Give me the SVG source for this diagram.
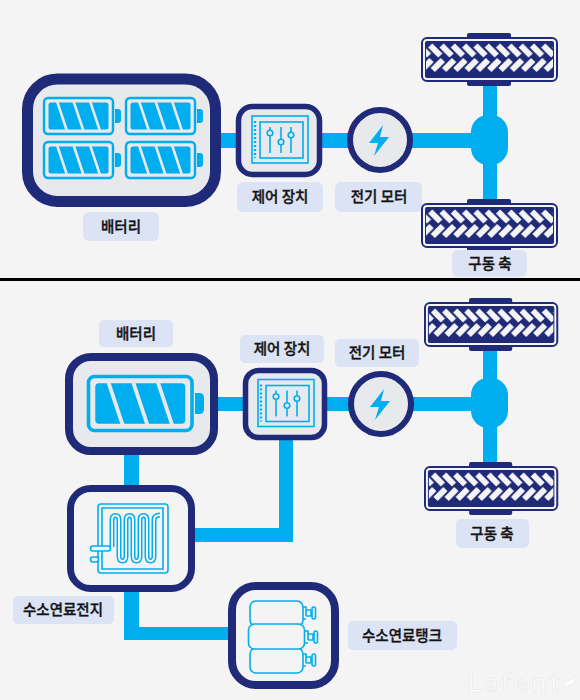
<svg xmlns="http://www.w3.org/2000/svg" width="580" height="700" viewBox="0 0 580 700">
<style>
.lb{fill:#dbe3f4}
.t{font-family:"Noto Sans CJK KR","Noto Sans",sans-serif;font-size:14.5px;font-weight:500;fill:#141414;stroke:#141414;stroke-width:.35px;text-anchor:middle}
.nv{stroke:#1f2a78;fill:#e8e9ec}
.ln{fill:#00aeef}
.ic{fill:none;stroke:#00aeef;stroke-width:1.6}
</style>
<defs>
<pattern id="tread" patternUnits="userSpaceOnUse" x="0" y="6" width="11.3" height="32">
<g stroke="#f4f4f4" stroke-width="6" fill="none">
<path d="M-2 2.500L8 12.500M9.300 2.500L19.300 12.500M-13.300 2.500L-3.300 12.500"/>
<path d="M10.500 17L0.500 27M21.800 17L11.800 27M-0.800 17L-10.800 27"/>
</g>
</pattern>
<g id="tire">
<rect x="46" y="-4" width="44" height="53" rx="2" fill="#1f2a78"/>
<rect x="1" y="1" width="135" height="43" rx="5" fill="#f4f4f4" stroke="#1f2a78" stroke-width="2"/>
<rect x="4" y="4" width="129" height="37" rx="2" fill="#1f2a78"/>
<rect x="5" y="6" width="127" height="32" fill="url(#tread)"/>
</g>
<g id="cell">
<rect x="1" y="1" width="69" height="36" rx="4" fill="none" stroke="#00aeef" stroke-width="2.400"/>
<rect x="5.500" y="5.500" width="60" height="27" rx="2.500" fill="#00aeef"/>
<path d="M14 4L24 34M30.500 4L40.500 34M47 4L57 34" stroke="#e8e9ec" stroke-width="2.600" fill="none"/>
<path d="M72 12h3a3 3 0 0 1 3 3v8a3 3 0 0 1-3 3h-3z" fill="#00aeef"/>
</g>
<g id="ctl">
<rect x="252" y="116" width="56" height="47" class="ic"/>
<rect x="260" y="122" width="43" height="36" class="ic"/>
<path d="M255 121V158" stroke="#00aeef" stroke-width="2.400" stroke-dasharray="2 2" fill="none"/>
<path d="M270 127V130M270 136V153M281 127V139M281 145V153M291 127V132M291 138V153" class="ic"/>
<circle cx="270" cy="133" r="2.800" class="ic"/><circle cx="281" cy="142" r="2.800" class="ic"/><circle cx="291" cy="135" r="2.800" class="ic"/>
</g>
<polygon id="bolt" points="383,125 369,143 378,143 374,156 389,137 380,137" fill="#00aeef"/>
<g id="valve">
<path d="M0 -6h3v3h5M3 -3v6M3 6h-3M3 3h5M8 -3v6" class="ic"/>
<rect x="9" y="-6" width="3.500" height="12" rx="1.700" class="ic"/>
</g>
</defs>
<rect width="580" height="700" fill="#f4f4f4"/>
<rect x="0" y="278" width="580" height="3" fill="#000"/>

<g id="connectors">
<rect class="ln" x="210" y="133" width="280" height="15"/>
<rect class="ln" x="483" y="80" width="14" height="125"/>
<rect class="ln" x="471" y="115" width="37" height="50" rx="17"/>
<rect class="ln" x="210" y="397" width="280" height="14"/>
<rect class="ln" x="483" y="345" width="14" height="125"/>
<rect class="ln" x="471" y="378" width="37" height="50" rx="17"/>
<rect class="ln" x="124" y="450" width="15" height="40"/>
<path class="ln" d="M190 528H279V435H293V542H190z"/>
<path class="ln" d="M124 588H139V627H235V640H124z"/>
</g>

<g id="top-battery">
<rect class="nv" x="27.500" y="79" width="188" height="122.500" rx="30" stroke-width="11"/>
<use href="#cell" x="43" y="97"/><use href="#cell" x="125" y="97"/>
<use href="#cell" x="43" y="141"/><use href="#cell" x="125" y="141"/>
</g>
<g id="top-battery-label"><rect class="lb" x="83" y="212" width="76" height="29" rx="6"/><text class="t" x="121" y="232">배터리</text></g>

<g id="top-control">
<rect class="nv" x="238.500" y="106.500" width="81" height="68" rx="14" stroke-width="5.500"/>
<use href="#ctl"/>
</g>
<g id="top-control-label"><rect class="lb" x="237" y="182" width="86" height="30" rx="6"/><text class="t" x="280" y="202">제어 장치</text></g>

<g id="top-motor">
<circle class="nv" cx="380" cy="140" r="30" stroke-width="6"/>
<use href="#bolt"/>
</g>
<g id="top-motor-label"><rect class="lb" x="335" y="182" width="87" height="30" rx="6"/><text class="t" x="379" y="202">전기 모터</text></g>

<g id="top-axle">
<use href="#tire" x="421" y="37"/>
<use href="#tire" x="421" y="203"/>
</g>
<g id="top-axle-label"><rect class="lb" x="452" y="250" width="75" height="27" rx="6"/><text class="t" x="490" y="269">구동 축</text></g>

<g id="battery">
<rect class="nv" x="69" y="357" width="145" height="94" rx="22" stroke-width="8"/>
<use href="#cell" transform="translate(87 375) scale(1.500)"/>
</g>
<g id="battery-label"><rect class="lb" x="99" y="320" width="74" height="27" rx="5"/><text class="t" x="136" y="339">배터리</text></g>

<g id="control">
<rect class="nv" x="245.500" y="370.500" width="79" height="67" rx="13" stroke-width="5.500"/>
<use href="#ctl" x="6" y="263.500"/>
</g>
<g id="control-label"><rect class="lb" x="240" y="335" width="84" height="28" rx="5"/><text class="t" x="282" y="354">제어 장치</text></g>

<g id="motor">
<circle class="nv" cx="381" cy="404" r="30" stroke-width="6"/>
<use href="#bolt" x="1" y="264"/>
</g>
<g id="motor-label"><rect class="lb" x="335" y="339" width="84" height="28" rx="5"/><text class="t" x="377" y="358">전기 모터</text></g>

<g id="axle">
<use href="#tire" transform="translate(424 302) scale(0.980 1)"/>
<use href="#tire" transform="translate(424 466) scale(0.980 1)"/>
</g>
<g id="axle-label"><rect class="lb" x="456" y="519" width="73" height="29" rx="5"/><text class="t" x="492" y="539">구동 축</text></g>

<g id="fuel-cell">
<rect x="70.500" y="488.500" width="121" height="100" rx="20" fill="#f4f4f4" stroke="#1f2a78" stroke-width="7"/>
<rect x="98" y="504" width="70" height="69" rx="3" class="ic"/>
<path d="M102 569V508H163V569z" class="ic"/>
<g fill="none">
<path d="M112 547V520Q112 515.500 115.500 515.500T119 520V556Q119 561 122.500 561T126 556V520Q126 515.500 129.500 515.500T133 520V556Q133 561 136.500 561T140 556V520Q140 515.500 143.500 515.500T147 520V556Q147 561 150.500 561T154 556V520Q154 515 160 515" stroke="#00aeef" stroke-width="5"/>
<path d="M112 547V520Q112 515.500 115.500 515.500T119 520V556Q119 561 122.500 561T126 556V520Q126 515.500 129.500 515.500T133 520V556Q133 561 136.500 561T140 556V520Q140 515.500 143.500 515.500T147 520V556Q147 561 150.500 561T154 556V520Q154 515 160 515" stroke="#f4f4f4" stroke-width="2"/>
</g>
<rect x="90.500" y="546" width="20" height="5" rx="2.500" fill="#f4f4f4" stroke="#00aeef" stroke-width="1.600"/>
<rect x="90.500" y="557" width="8" height="5" rx="2.500" fill="#f4f4f4" stroke="#00aeef" stroke-width="1.600"/>
</g>
<g id="fuel-cell-label"><rect class="lb" x="13" y="596" width="101" height="28" rx="5"/><text class="t" x="63" y="615">수소연료전지</text></g>

<g id="tank">
<rect x="232" y="586" width="103" height="99" rx="24" fill="#f4f4f4" stroke="#1f2a78" stroke-width="8"/>
<rect x="250" y="601" width="53" height="25" rx="6" class="ic"/>
<rect x="250" y="648" width="53" height="25" rx="6" class="ic"/>
<rect x="248.500" y="624" width="56" height="25" rx="6" fill="#f4f4f4" stroke="#00aeef" stroke-width="1.600"/>
<use href="#valve" x="303" y="613"/>
<use href="#valve" x="305" y="637"/>
<use href="#valve" x="303" y="660"/>
</g>
<g id="tank-label"><rect class="lb" x="348" y="621" width="109" height="29" rx="5"/><text class="t" x="402" y="641">수소연료탱크</text></g>

<g id="watermark">
<text x="467" y="692" font-family="Lato,'Liberation Sans',sans-serif" font-size="27" font-weight="400" letter-spacing="3.500" fill="#fcfcfc" stroke="#e4e4e4" stroke-width="0.500">Lafent</text>
<path d="M562 687Q565 679 577 678Q574 687 562 687z" fill="#fcfcfc" stroke="#e4e4e4" stroke-width="0.500"/>
</g>
</svg>
